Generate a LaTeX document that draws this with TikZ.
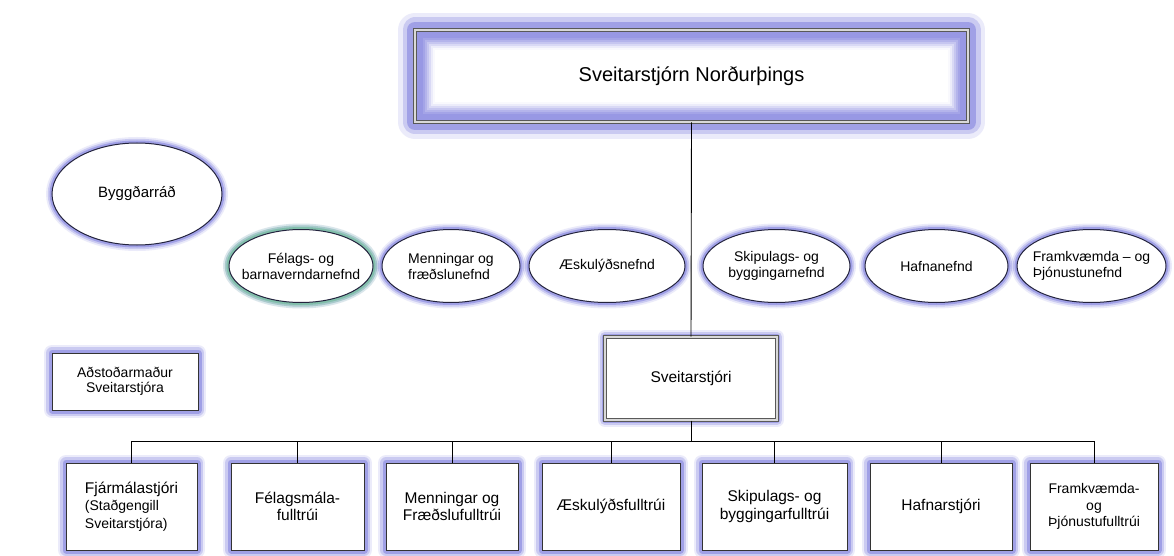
\documentclass[tikz,border=0pt]{standalone}
\usepackage{fontspec}
\setmainfont{Liberation Sans}
\usetikzlibrary{shapes.geometric}

\definecolor{glow}{RGB}{126,126,222}
\definecolor{glowgreen}{RGB}{120,204,150}
\definecolor{rim}{RGB}{35,35,62}

\tikzset{
  halo/.style n args={3}{preaction={draw=#1, line width=#2, line join=round, opacity=.15},
                         preaction={draw=#1, line width=(#2+#3)/2, line join=round, opacity=.3},
                         preaction={draw=#1, line width=#3, line join=round, opacity=.55}},
  unitbox/.style={rectangle, draw=black!80, fill=white, line width=1pt,
                  halo={glow}{16pt}{7pt}, inner sep=2pt, align=center,
                  font=\fontsize{15.5}{17.5}\selectfont},
  board/.style={ellipse, draw=rim, fill=white, line width=1pt,
                halo={glow}{12pt}{5pt}, inner xsep=-20pt, inner ysep=0pt,
                minimum height=73pt, align=center,
                font=\fontsize{14}{16}\selectfont},
  headbox/.style={rectangle, draw=black!65, double=black!15, line width=1pt,
                  double distance=2pt, fill=white, align=center}
}
\newcommand{\smalltxt}{\fontsize{14}{18}\selectfont}

\begin{document}
\begin{tikzpicture}[x=1pt, y=-1pt]
  \path[use as bounding box, fill=white] (0,0) rectangle (1174,556);

  % council and committees
  \node[headbox, halo={glow}{34pt}{16pt}, minimum width=553pt, minimum height=92pt,
        font=\fontsize{20}{23}\selectfont,
        path picture={
          \fill[glow!80] (path picture bounding box.south west) rectangle (path picture bounding box.north east);
          \foreach \d/\o in {8/.12,10/.18,12/.25,14/.35,16/.5,18/.7,20/1}
            \fill[white, opacity=\o] ([shift={(\d pt,\d pt)}]path picture bounding box.south west)
              rectangle ([shift={(-\d pt,-\d pt)}]path picture bounding box.north east);
        }] (council) at (691.5,76) {Sveitarstjórn Norðurþings};

  \node[board, minimum width=170pt, minimum height=102pt,
        font=\fontsize{15}{17}\selectfont] (byggd) at (137,194) {Byggðarráð};

  \node[board, halo={glowgreen}{12pt}{5pt}, minimum width=144pt] (felnefnd) at (301,266) {Félags- og\\barnaverndarnefnd};
  \node[board, minimum width=138pt, align=left] (mennnefnd) at (451,266) {Menningar og\\fræðslunefnd};
  \node[board, minimum width=156pt] (aesknefnd) at (607,266) {Æskulýðsnefnd};
  \node[board, minimum width=147pt] (skipnefnd) at (776.5,266) {Skipulags- og\\byggingarnefnd};
  \node[board, minimum width=143pt] (hafnnefnd) at (936.5,266) {Hafnanefnd};
  \node[board, minimum width=149pt, align=left] (framknefnd) at (1091.5,266) {Framkvæmda – og\\Þjónustunefnd};

  % administration
  \node[unitbox, minimum width=146pt, minimum height=57pt,
        font=\fontsize{14}{15.5}\selectfont] (adstod) at (125,381.5) {Aðstoðarmaður\\Sveitarstjóra};

  \node[headbox, halo={glow}{14pt}{6pt}, minimum width=172pt, minimum height=83pt,
        font=\fontsize{15.5}{17.5}\selectfont] (sveitarstj) at (691,378.5) {Sveitarstjóri};

  \node[unitbox, minimum width=131pt, minimum height=87pt, align=left] (fjarm) at (131.5,506.5)
    {Fjármálastjóri\\\smalltxt(Staðgengill\\\smalltxt Sveitarstjóra)};
  \node[unitbox, minimum width=133pt, minimum height=87pt] (felm) at (297.5,506.5) {Félagsmála-\\fulltrúi};
  \node[unitbox, minimum width=132pt, minimum height=87pt] (menn) at (452,506.5) {Menningar og\\Fræðslufulltrúi};
  \node[unitbox, minimum width=138pt, minimum height=87pt] (aesk) at (611,506.5) {Æskulýðsfulltrúi};
  \node[unitbox, minimum width=145pt, minimum height=87pt] (skip) at (774.5,506.5) {Skipulags- og\\byggingarfulltrúi};
  \node[unitbox, minimum width=142pt, minimum height=87pt] (hafn) at (941,506.5) {Hafnarstjóri};
  \node[unitbox, minimum width=128pt, minimum height=87pt,
        font=\fontsize{14}{16.5}\selectfont] (framkv) at (1094,506.5) {Framkvæmda-\\og\\Þjónustufulltrúi};

  % lines
  \coordinate (bus) at (691,441);
  \draw[line width=.9pt] (council.south) -- (sveitarstj.north);
  \draw[line width=.9pt] (sveitarstj.south) -- (bus);
  \draw[line width=.9pt] (bus -| fjarm.north) -- (bus -| framkv.north);
  \foreach \n in {fjarm,felm,menn,aesk,skip,hafn,framkv}
    \draw[line width=.9pt] (bus -| \n.north) -- (\n.north);
\end{tikzpicture}
\end{document}
